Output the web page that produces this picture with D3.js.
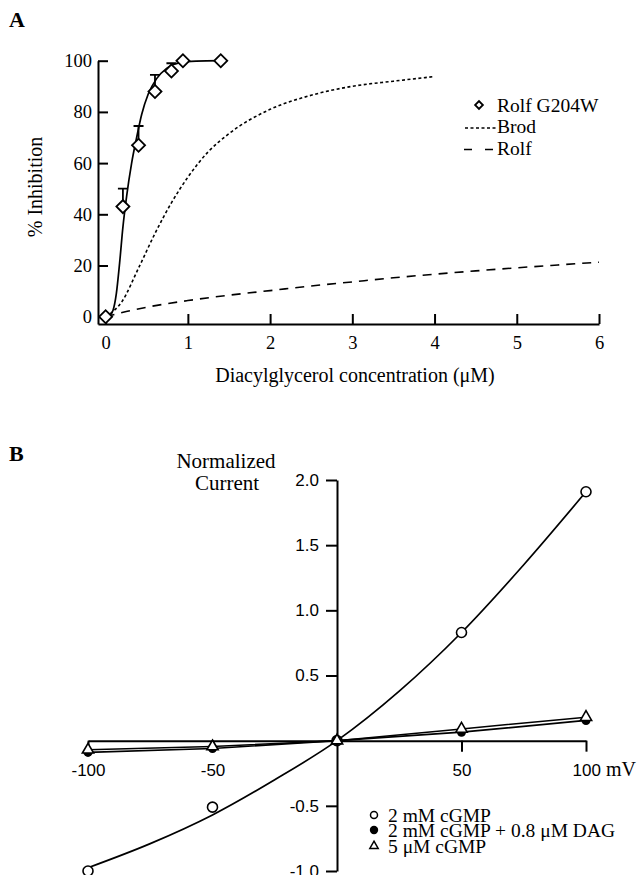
<!DOCTYPE html>
<html>
<head>
<meta charset="utf-8">
<script src="https://cdn.jsdelivr.net/npm/d3@7"></script>
<style>
  body { margin: 0; background: #fff; }
  svg { display: block; }
</style>
</head>
<body>
<div id="chart"></div>
<script>
// ---- Panel A data : % inhibition vs diacylglycerol (µM)
const g204wX = [0, 0.21, 0.40, 0.60, 0.80, 0.94, 1.40];
const g204wY = [0, 43, 67, 88, 96, 100, 100];
const g204wErr = [null, 50, 74.5, 94.5, 99, null, null];

// courbes
const fitG204wX = [0, 0.05, 0.09, 0.13, 0.17, 0.21, 0.255, 0.316, 0.377, 0.438, 0.518, 0.62, 0.742, 0.904, 1.1, 1.4];
const fitG204wY = [0, 0.5, 2.5, 9, 21, 35, 47, 60, 70, 79, 87, 93, 97, 99.2, 99.8, 100];
const brodX = [0, 0.2, 0.4, 0.6, 0.8, 1.0, 1.25, 1.5, 2, 2.5, 3, 3.5, 4.0];
const brodY = [0, 6, 19, 32.5, 44.5, 54.5, 64.5, 71.5, 81, 86.5, 90, 92, 93.8];
const rolfX = [0, 0.25, 0.5, 1, 1.5, 2, 2.5, 3, 3.5, 4, 4.5, 5, 5.5, 6];
const rolfY = [0, 2, 3.7, 6.3, 8.4, 10.2, 12, 13.6, 15.2, 16.6, 17.9, 19.1, 20.2, 21.3];

const ticksAx = [0, 1, 2, 3, 4, 5, 6];
const ticksAy = [0, 20, 40, 60, 80, 100];

// ---- Panel B data : normalized current vs voltage (mV)
const voltages = [-100, -50, 0, 50, 100];
const cgmp2 = [-1.0, -0.51, 0, 0.83, 1.91];
const cgmp2Dag = [-0.09, -0.06, 0, 0.065, 0.155];
const cgmp5 = [-0.07, -0.045, 0, 0.09, 0.18];
const fitCgmpX = [-100, -75, -50, -25, 0, 25, 50, 75, 100];
const fitCgmpY = [-0.975, -0.79, -0.57, -0.3, 0, 0.38, 0.83, 1.35, 1.91];

const ticksBx = [-100, -50, 50, 100];
const ticksBy = [-1, -0.5, 0.5, 1, 1.5, 2];

const SERIF = '"Liberation Serif", "Times New Roman", serif';
const SANS = '"Liberation Sans", Arial, sans-serif';

const W = 640, H = 875;
const svg = d3.select("#chart").append("svg")
  .attr("width", W).attr("height", H);

// ================= Panel A =================
const xA = d3.scaleLinear().domain([-0.093, 6]).range([98, 599]);
const yA = d3.scaleLinear().domain([-2.85, 100]).range([324, 60.7]);

svg.append("text")
  .attr("x", 9).attr("y", 27)
  .style("font-family", SERIF).style("font-size", "22px").style("font-weight", "bold")
  .text("A");

const axA = svg.append("g").attr("transform", "translate(0,324)")
  .call(d3.axisBottom(xA).tickValues(ticksAx).tickFormat(d => String(d))
    .tickSize(-10).tickSizeOuter(0).tickPadding(12));
const ayA = svg.append("g").attr("transform", "translate(98,0)")
  .call(d3.axisLeft(yA).tickValues(ticksAy).tickFormat(d => String(d))
    .tickSize(-10).tickSizeOuter(0).tickPadding(6));
[axA, ayA].forEach(a => {
  a.selectAll("path, line").attr("stroke", "#000").attr("stroke-width", 2);
  a.selectAll("text").style("font-family", SERIF).style("font-size", "18.5px").attr("fill", "#000");
});

svg.append("text")
  .attr("transform", "translate(41.5,187) rotate(-90)")
  .attr("text-anchor", "middle")
  .style("font-family", SERIF).style("font-size", "20px")
  .text("% Inhibition");

svg.append("text")
  .attr("x", 355).attr("y", 382)
  .attr("text-anchor", "middle")
  .style("font-family", SERIF).style("font-size", "20px")
  .text("Diacylglycerol concentration (\u03BCM)");

const lineA = d3.line().x(d => xA(d[0])).y(d => yA(d[1])).curve(d3.curveMonotoneX);

svg.append("path")
  .attr("d", lineA(d3.zip(rolfX, rolfY)))
  .attr("fill", "none").attr("stroke", "#000").attr("stroke-width", 1.6)
  .attr("stroke-dasharray", "9,7");
svg.append("path")
  .attr("d", lineA(d3.zip(brodX, brodY)))
  .attr("fill", "none").attr("stroke", "#000").attr("stroke-width", 1.6)
  .attr("stroke-dasharray", "3,2.5");
svg.append("path")
  .attr("d", lineA(d3.zip(fitG204wX, fitG204wY)))
  .attr("fill", "none").attr("stroke", "#000").attr("stroke-width", 1.7);

// barres d'erreur
const errData = g204wX.map((x, i) => ({ x: x, y: g204wY[i], e: g204wErr[i] })).filter(d => d.e !== null);
svg.append("g").selectAll("path")
  .data(errData)
  .enter()
  .append("path")
  .attr("d", d => `M${xA(d.x)},${yA(d.y)}V${yA(d.e)}M${xA(d.x) - 5},${yA(d.e)}H${xA(d.x) + 5}`)
  .attr("fill", "none").attr("stroke", "#000").attr("stroke-width", 1.8);

const diamond = d3.symbol().type(d3.symbolSquare).size(85);
svg.append("g").selectAll("path")
  .data(d3.zip(g204wX, g204wY))
  .enter()
  .append("path")
  .attr("d", diamond)
  .attr("transform", d => `translate(${xA(d[0])},${yA(d[1])}) rotate(45)`)
  .attr("fill", "#fff").attr("stroke", "#000").attr("stroke-width", 1.8);

// légende A
const legA = svg.append("g");
legA.append("path")
  .attr("d", d3.symbol().type(d3.symbolSquare).size(30))
  .attr("transform", "translate(479,105) rotate(45)")
  .attr("fill", "#fff").attr("stroke", "#000").attr("stroke-width", 1.8);
legA.append("line").attr("x1", 465).attr("x2", 496).attr("y1", 128).attr("y2", 128)
  .attr("stroke", "#000").attr("stroke-width", 1.5).attr("stroke-dasharray", "3,2.5");
legA.append("line").attr("x1", 464).attr("x2", 493).attr("y1", 149.5).attr("y2", 149.5)
  .attr("stroke", "#000").attr("stroke-width", 1.6).attr("stroke-dasharray", "8,13");
[["Rolf G204W", 111.7], ["Brod", 133], ["Rolf", 155]].forEach(([t, y]) => {
  legA.append("text")
    .attr("x", 497).attr("y", y)
    .style("font-family", SERIF).style("font-size", "19.5px")
    .text(t);
});

// ================= Panel B =================
const xB = d3.scaleLinear().domain([-100, 100]).range([88, 586]);
const yB = d3.scaleLinear().domain([-1, 2]).range([871, 480]);

svg.append("text")
  .attr("x", 9).attr("y", 461)
  .style("font-family", SERIF).style("font-size", "22px").style("font-weight", "bold")
  .text("B");

svg.append("text")
  .attr("x", 226).attr("y", 468)
  .attr("text-anchor", "middle")
  .style("font-family", SERIF).style("font-size", "21px")
  .text("Normalized");
svg.append("text")
  .attr("x", 227).attr("y", 490)
  .attr("text-anchor", "middle")
  .style("font-family", SERIF).style("font-size", "21px")
  .text("Current");

const axB = svg.append("g").attr("transform", `translate(0,${yB(0)})`)
  .call(d3.axisBottom(xB).tickValues(ticksBx).tickFormat(d => String(d))
    .tickSize(11).tickSizeOuter(0).tickPadding(12));
const ayB = svg.append("g").attr("transform", `translate(${xB(0)},0)`)
  .call(d3.axisLeft(yB).tickValues(ticksBy).tickSize(11).tickSizeOuter(0).tickPadding(7)
    .tickFormat(d => d.toFixed(1)));
[axB, ayB].forEach(a => {
  a.selectAll("path, line").attr("stroke", "#000").attr("stroke-width", 2);
  a.selectAll("text").style("font-family", SANS).style("font-size", "17px").attr("fill", "#000");
});
// "100 mV"
axB.selectAll(".tick").filter(d => d === 100).select("text")
  .attr("text-anchor", "start").attr("x", -14)
  .text("100")
  .append("tspan").style("font-family", SERIF).style("font-size", "20px").text(" mV");

const lineB = d3.line().x(d => xB(d[0])).y(d => yB(d[1]));

svg.append("path")
  .attr("d", lineB.curve(d3.curveMonotoneX)(d3.zip(fitCgmpX, fitCgmpY)))
  .attr("fill", "none").attr("stroke", "#000").attr("stroke-width", 1.7);
svg.append("path")
  .attr("d", lineB.curve(d3.curveLinear)(d3.zip(voltages, cgmp2Dag)))
  .attr("fill", "none").attr("stroke", "#000").attr("stroke-width", 1.7);
svg.append("path")
  .attr("d", lineB.curve(d3.curveLinear)(d3.zip(voltages, cgmp5)))
  .attr("fill", "none").attr("stroke", "#000").attr("stroke-width", 1.5);

svg.append("g").selectAll("circle")
  .data(d3.zip(voltages, cgmp2))
  .enter()
  .append("circle")
  .attr("cx", d => xB(d[0])).attr("cy", d => yB(d[1])).attr("r", 5)
  .attr("fill", "#fff").attr("stroke", "#000").attr("stroke-width", 1.6);

svg.append("g").selectAll("circle")
  .data(d3.zip(voltages, cgmp2Dag))
  .enter()
  .append("circle")
  .attr("cx", d => xB(d[0])).attr("cy", d => yB(d[1])).attr("r", 4.5)
  .attr("fill", "#000");

const tri = d3.symbol().type(d3.symbolTriangle).size(55);
svg.append("g").selectAll("path")
  .data(d3.zip(voltages, cgmp5))
  .enter()
  .append("path")
  .attr("d", tri)
  .attr("transform", d => `translate(${xB(d[0])},${yB(d[1])})`)
  .attr("fill", "#fff").attr("stroke", "#000").attr("stroke-width", 1.6);

// légende B
const legB = svg.append("g");
legB.append("circle").attr("cx", 374).attr("cy", 815).attr("r", 3.5)
  .attr("fill", "#fff").attr("stroke", "#000").attr("stroke-width", 1.5);
legB.append("circle").attr("cx", 374).attr("cy", 830).attr("r", 4.2)
  .attr("fill", "#000");
legB.append("path").attr("d", d3.symbol().type(d3.symbolTriangle).size(30))
  .attr("transform", "translate(374,846)")
  .attr("fill", "#fff").attr("stroke", "#000").attr("stroke-width", 1.5);
[["2 mM cGMP", 821.5], ["2 mM cGMP + 0.8 \u03BCM DAG", 837], ["5 \u03BCM cGMP", 852.5]].forEach(([t, y]) => {
  legB.append("text")
    .attr("x", 388).attr("y", y)
    .style("font-family", SERIF).style("font-size", "19.5px")
    .text(t);
});
</script>
</body>
</html>
